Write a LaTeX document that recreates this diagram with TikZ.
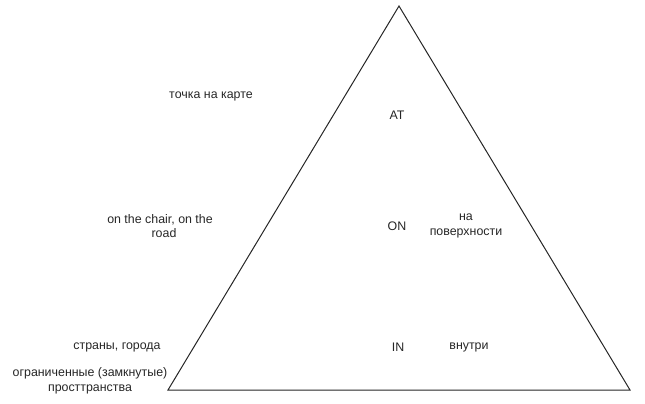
\documentclass[tikz,border=0pt]{standalone}
\usepackage{fontspec}
\setmainfont{Liberation Sans}
\begin{document}
\begin{tikzpicture}[x=1pt,y=-1pt,
  lbl/.style={font=\fontsize{12.4}{14.8}\selectfont, text=black!85, align=center, inner sep=0pt},
  edge/.style={draw=black!85, line width=1pt, line join=miter}]
\useasboundingbox (0,0) rectangle (645,404);
\coordinate (top) at (399,6);
\coordinate (bl) at (168,390);
\coordinate (br) at (630,390);
\draw[edge] (top) -- (br) -- (bl) -- cycle;
\node[lbl] (map) at (211,96) {точка на карте};
\node[lbl] (at) at (397,115) {AT};
\node[lbl] (chair) at (160,226) {on the chair, on the\\\hspace*{8pt}road};
\node[lbl] (on) at (397,226) {ON};
\node[lbl] (surf) at (466,226) {на\\поверхности};
\node[lbl] (in) at (398,347) {IN};
\node[lbl] (inside) at (469,347) {внутри};
\node[lbl] (countries) at (117,347) {страны, города};
\node[lbl] (closed) at (90,381) {ограниченные (замкнутые)\\просттранства};
\end{tikzpicture}
\end{document}
